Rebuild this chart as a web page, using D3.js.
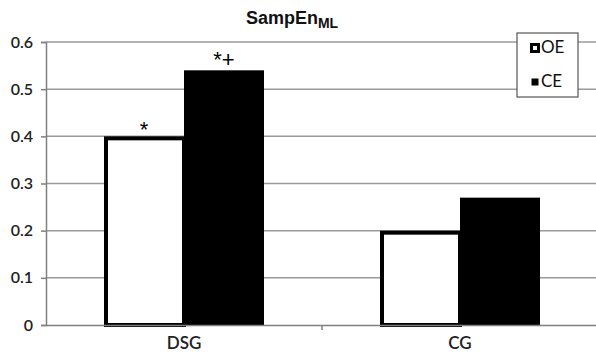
<!DOCTYPE html>
<html>
<head>
<meta charset="utf-8">
<script src="https://cdn.jsdelivr.net/npm/d3@7"></script>
<style>
  body { margin: 0; background: #fff; }
</style>
</head>
<body>
<div id="chart-area"></div>
<script>
// data
var groups = ["DSG", "CG"];
var series = ["OE", "CE"];
var oeValues = [0.40, 0.20];
var ceValues = [0.54, 0.27];
var yTicks = [0, 0.1, 0.2, 0.3, 0.4, 0.5, 0.6];
var marks = [["*", ""], ["*+", ""]]; // per series, per group

var svg_x = 596, svg_y = 358;
var margin = {left: 46, right: -2, top: 42, bottom: 33};
var width = svg_x - margin.left - margin.right;
var height = svg_y - margin.top - margin.bottom;

var labelFont = "Lato, 'Open Sans', sans-serif";
var arialFont = "'Liberation Sans', Arial, sans-serif";

var svg = d3.select("#chart-area").append("svg")
  .attr("width", svg_x)
  .attr("height", svg_y);

var g = svg.append("g")
  .attr("transform", "translate(" + margin.left + "," + margin.top + ")");

var x = d3.scaleBand().domain(groups).range([0, width]);
var x1 = d3.scaleBand().domain(series).range([0, 160]);
var y = d3.scaleLinear().domain([0, 0.6]).range([height, 0]);

// gridlines
g.selectAll(".grid").data(yTicks.slice(1)).enter()
  .append("line")
  .attr("x1", 0).attr("x2", width)
  .attr("y1", d => y(d)).attr("y2", d => y(d))
  .attr("stroke", "#9a9a9a").attr("stroke-width", 1.5);

// y axis
var yAxis = g.append("g")
  .call(d3.axisLeft(y).tickValues(yTicks).tickFormat(d => d === 0 ? "0" : d3.format(".1f")(d)).tickSize(5).tickPadding(8));
yAxis.select(".domain").attr("stroke", "#808080").attr("stroke-width", 1.5);
yAxis.selectAll(".tick line").attr("stroke", "#808080").attr("stroke-width", 1.5);
yAxis.selectAll(".tick text")
  .style("font-family", labelFont).style("font-size", "16px").style("font-weight", 600)
  .attr("fill", "#222");

// bars
var data = groups.map((grp, i) => ({grp: grp, vals: [oeValues[i], ceValues[i]]}));
var grpG = g.selectAll(".grp").data(data).enter().append("g")
  .attr("transform", d => "translate(" + (x(d.grp) + x.bandwidth() / 2 - 80) + ",0)");

grpG.selectAll("rect").data(d => d.vals.map((v, j) => ({s: series[j], v: v}))).enter()
  .append("rect")
  .attr("x", d => x1(d.s) + (d.s === "OE" ? 2 : 0))
  .attr("y", d => y(d.v) + (d.s === "OE" ? 2 : 0))
  .attr("width", d => x1.bandwidth() - (d.s === "OE" ? 2 : 0))
  .attr("height", d => height - y(d.v) - (d.s === "OE" ? 2 : 0))
  .attr("fill", d => d.s === "OE" ? "#fff" : "#000")
  .attr("stroke", "#000")
  .attr("stroke-width", d => d.s === "OE" ? 4 : 0);

// x axis
var xAxis = g.append("g")
  .attr("transform", "translate(0," + height + ")")
  .call(d3.axisBottom(x).tickSize(0).tickPadding(12));
xAxis.select(".domain").attr("stroke", "#808080").attr("stroke-width", 1.5);
xAxis.selectAll(".tick text")
  .style("font-family", labelFont).style("font-size", "17px").style("font-weight", 600)
  .attr("fill", "#222");
xAxis.append("line")
  .attr("x1", x("CG")).attr("x2", x("CG"))
  .attr("y1", 0).attr("y2", 5)
  .attr("stroke", "#808080").attr("stroke-width", 1.5);

// significance marks
groups.forEach((grp, i) => {
  series.forEach((s, j) => {
    var m = marks[j][i];
    if (!m) return;
    var v = j === 0 ? oeValues[i] : ceValues[i];
    g.append("text")
      .attr("x", x(grp) + x.bandwidth() / 2 - 80 + x1(s) + x1.bandwidth() / 2)
      .attr("y", y(v) + (j === 0 ? 1 : -3))
      .attr("text-anchor", "middle")
      .style("font-family", arialFont)
      .style("font-size", "22px")
      .text(m);
  });
});

// title
var title = svg.append("text")
  .attr("x", 292).attr("y", 24)
  .attr("text-anchor", "middle")
  .style("font-family", arialFont)
  .style("font-weight", "bold")
  .style("font-size", "18px")
  .attr("fill", "#111");
title.append("tspan").text("SampEn");
title.append("tspan").attr("dy", 4).style("font-size", "14px").text("ML");

// legend
var legend = svg.append("g").attr("transform", "translate(517,33)");
legend.append("rect")
  .attr("width", 61).attr("height", 64)
  .attr("fill", "#fff").attr("stroke", "#555").attr("stroke-width", 1.2);
series.forEach((s, j) => {
  var ly = 10 + j * 34;
  legend.append("rect")
    .attr("x", 14.5).attr("y", ly + 1.5)
    .attr("width", 7).attr("height", 7)
    .attr("fill", s === "OE" ? "#fff" : "#000")
    .attr("stroke", "#000").attr("stroke-width", s === "OE" ? 3 : 0);
  legend.append("text")
    .attr("x", 24).attr("y", ly + 10)
    .style("font-family", labelFont)
    .style("font-size", "17px")
    .attr("fill", "#111")
    .text(s);
});
</script>
</body>
</html>
